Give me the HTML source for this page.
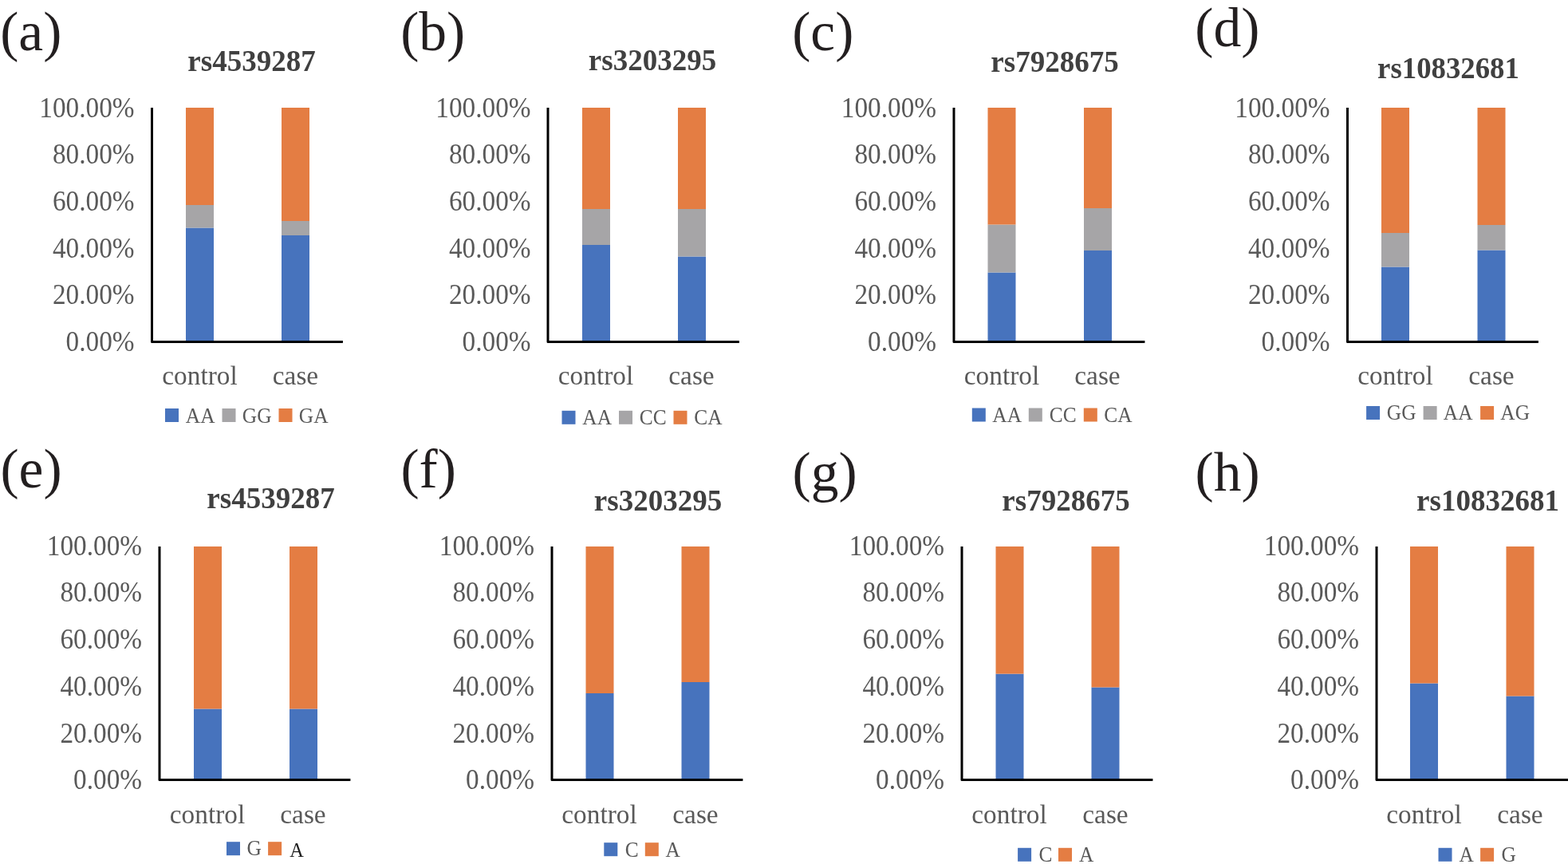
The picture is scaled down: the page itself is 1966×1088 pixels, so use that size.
<!DOCTYPE html>
<html lang="en">
<head>
<meta charset="utf-8">
<title>Genotype and allele frequencies</title>
<style>
html,body{margin:0;padding:0;background:#fff;}
body{width:1966px;height:1088px;overflow:hidden;}
svg{display:block;font-family:"Liberation Serif",serif;}
.tick{font-size:33.3px;fill:#595959;text-anchor:end;}
.xl{font-size:33.3px;fill:#595959;text-anchor:middle;}
.title{font-size:37px;font-weight:bold;fill:#404040;text-anchor:middle;}
.plab{font-size:69.5px;fill:#231f20;}
.leg{font-size:25.4px;fill:#595959;}
.axis{fill:none;stroke:#000;stroke-width:3;stroke-linejoin:round;stroke-linecap:butt;}
</style>
</head>
<body>
<svg width="1966" height="1088" viewBox="0 0 1966 1088">
<rect x="0" y="0" width="1966" height="1088" fill="#ffffff"/>

<g>
<text class="plab" x="0.15" y="63.06">(a)</text>
<text class="title" transform="translate(315.5 88.6) scale(1 1.05)">rs4539287</text>
<text class="tick" transform="translate(168.6 440) scale(1 1.055)">0.00%</text>
<text class="tick" transform="translate(168.6 381.3) scale(1 1.055)">20.00%</text>
<text class="tick" transform="translate(168.6 322.6) scale(1 1.055)">40.00%</text>
<text class="tick" transform="translate(168.6 263.9) scale(1 1.055)">60.00%</text>
<text class="tick" transform="translate(168.6 205.2) scale(1 1.055)">80.00%</text>
<text class="tick" transform="translate(168.6 146.5) scale(1 1.055)">100.00%</text>
<rect x="233" y="285.5" width="35" height="143" fill="#4773BD"/>
<rect x="233" y="257" width="35" height="28.5" fill="#A6A5A7"/>
<rect x="233" y="135" width="35" height="122" fill="#E47D43"/>
<rect x="353" y="295" width="35" height="133.5" fill="#4773BD"/>
<rect x="353" y="277" width="35" height="18" fill="#A6A5A7"/>
<rect x="353" y="135" width="35" height="142" fill="#E47D43"/>
<polyline class="axis" points="190.5,135.1 190.5,428.5 429.9,428.5"/>
<text class="xl" x="250.5" y="482">control</text>
<text class="xl" x="370.5" y="482">case</text>
<rect x="207" y="512" width="17" height="17" fill="#4773BD"/>
<text class="leg" transform="translate(232.8 530) scale(1 1.07)">AA</text>
<rect x="278.5" y="512" width="17" height="17" fill="#A6A5A7"/>
<text class="leg" transform="translate(303.8 530) scale(1 1.07)">GG</text>
<rect x="349.5" y="512" width="17" height="17" fill="#E47D43"/>
<text class="leg" transform="translate(374.8 530) scale(1 1.07)">GA</text>
</g>
<g>
<text class="plab" x="502.2" y="63.06">(b)</text>
<text class="title" transform="translate(818 87.7) scale(1 1.05)">rs3203295</text>
<text class="tick" transform="translate(665.6 440) scale(1 1.055)">0.00%</text>
<text class="tick" transform="translate(665.6 381.3) scale(1 1.055)">20.00%</text>
<text class="tick" transform="translate(665.6 322.6) scale(1 1.055)">40.00%</text>
<text class="tick" transform="translate(665.6 263.9) scale(1 1.055)">60.00%</text>
<text class="tick" transform="translate(665.6 205.2) scale(1 1.055)">80.00%</text>
<text class="tick" transform="translate(665.6 146.5) scale(1 1.055)">100.00%</text>
<rect x="730" y="307" width="35" height="121.5" fill="#4773BD"/>
<rect x="730" y="262" width="35" height="45" fill="#A6A5A7"/>
<rect x="730" y="135" width="35" height="127" fill="#E47D43"/>
<rect x="850" y="321.5" width="35" height="107" fill="#4773BD"/>
<rect x="850" y="262" width="35" height="59.5" fill="#A6A5A7"/>
<rect x="850" y="135" width="35" height="127" fill="#E47D43"/>
<polyline class="axis" points="687,135.1 687,428.5 926.9,428.5"/>
<text class="xl" x="747" y="482">control</text>
<text class="xl" x="867" y="482">case</text>
<rect x="704.5" y="514.8" width="17" height="17" fill="#4773BD"/>
<text class="leg" transform="translate(730.3 532) scale(1 1.07)">AA</text>
<rect x="776" y="514.8" width="17" height="17" fill="#A6A5A7"/>
<text class="leg" transform="translate(801.8 532) scale(1 1.07)">CC</text>
<rect x="844.5" y="514.8" width="17" height="17" fill="#E47D43"/>
<text class="leg" transform="translate(870.3 532) scale(1 1.07)">CA</text>
</g>
<g>
<text class="plab" x="993.2" y="63.06">(c)</text>
<text class="title" transform="translate(1322.5 90) scale(1 1.05)">rs7928675</text>
<text class="tick" transform="translate(1174.1 440) scale(1 1.055)">0.00%</text>
<text class="tick" transform="translate(1174.1 381.3) scale(1 1.055)">20.00%</text>
<text class="tick" transform="translate(1174.1 322.6) scale(1 1.055)">40.00%</text>
<text class="tick" transform="translate(1174.1 263.9) scale(1 1.055)">60.00%</text>
<text class="tick" transform="translate(1174.1 205.2) scale(1 1.055)">80.00%</text>
<text class="tick" transform="translate(1174.1 146.5) scale(1 1.055)">100.00%</text>
<rect x="1238.5" y="341.5" width="35" height="87" fill="#4773BD"/>
<rect x="1238.5" y="281.5" width="35" height="60" fill="#A6A5A7"/>
<rect x="1238.5" y="135" width="35" height="146.5" fill="#E47D43"/>
<rect x="1359" y="314" width="35" height="114.5" fill="#4773BD"/>
<rect x="1359" y="261" width="35" height="53" fill="#A6A5A7"/>
<rect x="1359" y="135" width="35" height="126" fill="#E47D43"/>
<polyline class="axis" points="1196,135.1 1196,428.5 1435.4,428.5"/>
<text class="xl" x="1256" y="482">control</text>
<text class="xl" x="1376" y="482">case</text>
<rect x="1218.8" y="511.5" width="17" height="17" fill="#4773BD"/>
<text class="leg" transform="translate(1244.3 528.5) scale(1 1.07)">AA</text>
<rect x="1289.8" y="511.5" width="17" height="17" fill="#A6A5A7"/>
<text class="leg" transform="translate(1315.8 528.5) scale(1 1.07)">CC</text>
<rect x="1358.8" y="511.5" width="17" height="17" fill="#E47D43"/>
<text class="leg" transform="translate(1384.3 528.5) scale(1 1.07)">CA</text>
</g>
<g>
<text class="plab" x="1498.3" y="58.16">(d)</text>
<text class="title" transform="translate(1816 97.5) scale(1 1.02)" style="font-size:36.8px">rs10832681</text>
<text class="tick" transform="translate(1667.6 440) scale(1 1.055)">0.00%</text>
<text class="tick" transform="translate(1667.6 381.3) scale(1 1.055)">20.00%</text>
<text class="tick" transform="translate(1667.6 322.6) scale(1 1.055)">40.00%</text>
<text class="tick" transform="translate(1667.6 263.9) scale(1 1.055)">60.00%</text>
<text class="tick" transform="translate(1667.6 205.2) scale(1 1.055)">80.00%</text>
<text class="tick" transform="translate(1667.6 146.5) scale(1 1.055)">100.00%</text>
<rect x="1732" y="334.5" width="35" height="94" fill="#4773BD"/>
<rect x="1732" y="292" width="35" height="42.5" fill="#A6A5A7"/>
<rect x="1732" y="135" width="35" height="157" fill="#E47D43"/>
<rect x="1852.5" y="313.5" width="35" height="115" fill="#4773BD"/>
<rect x="1852.5" y="282" width="35" height="31.5" fill="#A6A5A7"/>
<rect x="1852.5" y="135" width="35" height="147" fill="#E47D43"/>
<polyline class="axis" points="1689.5,135.1 1689.5,428.5 1928.9,428.5"/>
<text class="xl" x="1749.5" y="482">control</text>
<text class="xl" x="1870" y="482">case</text>
<rect x="1713.1" y="509" width="17" height="17" fill="#4773BD"/>
<text class="leg" transform="translate(1738.8 525.5) scale(1 1.07)">GG</text>
<rect x="1784.6" y="509" width="17" height="17" fill="#A6A5A7"/>
<text class="leg" transform="translate(1809.8 525.5) scale(1 1.07)">AA</text>
<rect x="1856.1" y="509" width="17" height="17" fill="#E47D43"/>
<text class="leg" transform="translate(1881.3 525.5) scale(1 1.07)">AG</text>
</g>
<g>
<text class="plab" x="0.43" y="611.46">(e)</text>
<text class="title" transform="translate(339.5 636.8) scale(1 1.05)">rs4539287</text>
<text class="tick" transform="translate(178.1 989.2) scale(1 1.055)">0.00%</text>
<text class="tick" transform="translate(178.1 930.5) scale(1 1.055)">20.00%</text>
<text class="tick" transform="translate(178.1 871.8) scale(1 1.055)">40.00%</text>
<text class="tick" transform="translate(178.1 813.1) scale(1 1.055)">60.00%</text>
<text class="tick" transform="translate(178.1 754.4) scale(1 1.055)">80.00%</text>
<text class="tick" transform="translate(178.1 695.7) scale(1 1.055)">100.00%</text>
<rect x="243" y="888.5" width="35" height="88.9" fill="#4773BD"/>
<rect x="243" y="685" width="35" height="203.5" fill="#E47D43"/>
<rect x="363" y="888.5" width="35" height="88.9" fill="#4773BD"/>
<rect x="363" y="685" width="35" height="203.5" fill="#E47D43"/>
<polyline class="axis" points="200,685.1 200,977.4 439.4,977.4"/>
<text class="xl" x="260" y="1031.5">control</text>
<text class="xl" x="380" y="1031.5">case</text>
<rect x="284" y="1055.2" width="17" height="17" fill="#4773BD"/>
<text class="leg" transform="translate(309.6 1072.4) scale(1 1.07)">G</text>
<rect x="336.1" y="1055.2" width="17" height="17" fill="#E47D43"/>
<text class="leg" transform="translate(363.2 1074) scale(1 1.0)" style="font-size:24.4px;fill:#1f1f1f">A</text>
</g>
<g>
<text class="plab" x="502.4" y="611.46">(f)</text>
<text class="title" transform="translate(825 640.4) scale(1 1.05)">rs3203295</text>
<text class="tick" transform="translate(670.1 989.2) scale(1 1.055)">0.00%</text>
<text class="tick" transform="translate(670.1 930.5) scale(1 1.055)">20.00%</text>
<text class="tick" transform="translate(670.1 871.8) scale(1 1.055)">40.00%</text>
<text class="tick" transform="translate(670.1 813.1) scale(1 1.055)">60.00%</text>
<text class="tick" transform="translate(670.1 754.4) scale(1 1.055)">80.00%</text>
<text class="tick" transform="translate(670.1 695.7) scale(1 1.055)">100.00%</text>
<rect x="734.5" y="869" width="35" height="108.4" fill="#4773BD"/>
<rect x="734.5" y="685" width="35" height="184" fill="#E47D43"/>
<rect x="854.5" y="855" width="35" height="122.4" fill="#4773BD"/>
<rect x="854.5" y="685" width="35" height="170" fill="#E47D43"/>
<polyline class="axis" points="692,685.1 692,977.4 931.4,977.4"/>
<text class="xl" x="751.5" y="1031.5">control</text>
<text class="xl" x="872" y="1031.5">case</text>
<rect x="757.3" y="1056.2" width="17" height="17" fill="#4773BD"/>
<text class="leg" transform="translate(783.7 1074) scale(1 1.07)">C</text>
<rect x="808.8" y="1056.2" width="17" height="17" fill="#E47D43"/>
<text class="leg" transform="translate(834.6 1074) scale(1 1.07)">A</text>
</g>
<g>
<text class="plab" x="993.6" y="615.16">(g)</text>
<text class="title" transform="translate(1336.5 640.4) scale(1 1.05)">rs7928675</text>
<text class="tick" transform="translate(1184.1 989.2) scale(1 1.055)">0.00%</text>
<text class="tick" transform="translate(1184.1 930.5) scale(1 1.055)">20.00%</text>
<text class="tick" transform="translate(1184.1 871.8) scale(1 1.055)">40.00%</text>
<text class="tick" transform="translate(1184.1 813.1) scale(1 1.055)">60.00%</text>
<text class="tick" transform="translate(1184.1 754.4) scale(1 1.055)">80.00%</text>
<text class="tick" transform="translate(1184.1 695.7) scale(1 1.055)">100.00%</text>
<rect x="1248.5" y="844.6" width="35" height="132.8" fill="#4773BD"/>
<rect x="1248.5" y="685" width="35" height="159.6" fill="#E47D43"/>
<rect x="1368.5" y="861.5" width="35" height="115.9" fill="#4773BD"/>
<rect x="1368.5" y="685" width="35" height="176.5" fill="#E47D43"/>
<polyline class="axis" points="1206,685.1 1206,977.4 1445.4,977.4"/>
<text class="xl" x="1265.5" y="1031.5">control</text>
<text class="xl" x="1386" y="1031.5">case</text>
<rect x="1276.1" y="1062.8" width="17" height="17" fill="#4773BD"/>
<text class="leg" transform="translate(1302.4 1080) scale(1 1.07)">C</text>
<rect x="1327" y="1062.8" width="17" height="17" fill="#E47D43"/>
<text class="leg" transform="translate(1353 1080) scale(1 1.07)">A</text>
</g>
<g>
<text class="plab" x="1498.5" y="615.16">(h)</text>
<text class="title" transform="translate(1865.5 640.4) scale(1 1.05)">rs10832681</text>
<text class="tick" transform="translate(1704.1 989.2) scale(1 1.055)">0.00%</text>
<text class="tick" transform="translate(1704.1 930.5) scale(1 1.055)">20.00%</text>
<text class="tick" transform="translate(1704.1 871.8) scale(1 1.055)">40.00%</text>
<text class="tick" transform="translate(1704.1 813.1) scale(1 1.055)">60.00%</text>
<text class="tick" transform="translate(1704.1 754.4) scale(1 1.055)">80.00%</text>
<text class="tick" transform="translate(1704.1 695.7) scale(1 1.055)">100.00%</text>
<rect x="1768" y="856.5" width="35" height="120.9" fill="#4773BD"/>
<rect x="1768" y="685" width="35" height="171.5" fill="#E47D43"/>
<rect x="1888.5" y="872.5" width="35" height="104.9" fill="#4773BD"/>
<rect x="1888.5" y="685" width="35" height="187.5" fill="#E47D43"/>
<polyline class="axis" points="1726,685.1 1726,977.4 1967.4,977.4"/>
<text class="xl" x="1785.5" y="1031.5">control</text>
<text class="xl" x="1906" y="1031.5">case</text>
<rect x="1803.5" y="1062.8" width="17" height="17" fill="#4773BD"/>
<text class="leg" transform="translate(1829.5 1080) scale(1 1.07)">A</text>
<rect x="1856.1" y="1062.8" width="17" height="17" fill="#E47D43"/>
<text class="leg" transform="translate(1882.4 1080) scale(1 1.07)">G</text>
</g>
</svg>
</body>
</html>
